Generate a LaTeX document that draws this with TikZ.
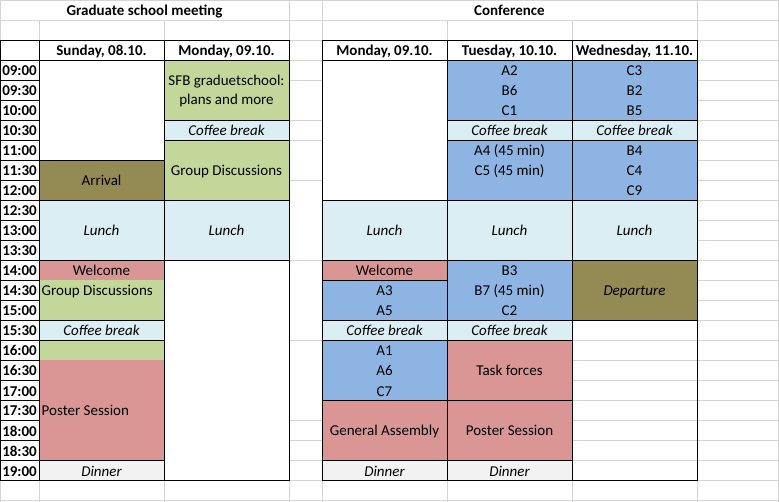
\documentclass[tikz,border=0pt]{standalone}
\usepackage{fontspec}
\setmainfont{Carlito}
\definecolor{cgreen}{HTML}{C4D79B}
\definecolor{clight}{HTML}{DAEEF3}
\definecolor{cblue}{HTML}{8DB4E2}
\definecolor{cpink}{HTML}{DA9694}
\definecolor{colive}{HTML}{948A54}
\definecolor{cdin}{HTML}{F2F2F2}
\definecolor{cgrid}{HTML}{D4D4D4}
\tikzset{
  txt/.style={anchor=base, inner sep=0pt, font=\fontsize{15}{18}\selectfont},
  ltxt/.style={anchor=base west, inner sep=0pt, font=\fontsize{15}{18}\selectfont},
  ital/.style={anchor=base, inner sep=0pt, font=\fontsize{15}{18}\selectfont\itshape},
  hdr/.style={anchor=base, inner sep=0pt, font=\fontsize{15}{18}\selectfont\bfseries},
  timel/.style={anchor=base east, inner sep=0pt, font=\fontsize{15}{18}\selectfont\bfseries},
  gridln/.style={draw=cgrid, line width=1pt},
  bord/.style={draw=black, line width=1pt},
}
\begin{document}
\begin{tikzpicture}[x=1pt,y=-1pt]
\useasboundingbox (0,0) rectangle (779,502);
\fill[white] (0,0) rectangle (779,502);
% ---------- fills: column B (39-164)
\fill[colive] (39,160) rectangle (164,200);
\fill[clight] (39,200) rectangle (164,260);
\fill[cpink]  (39,260) rectangle (164,280);
\fill[cgreen] (39,280) rectangle (164,320);
\fill[clight] (39,320) rectangle (164,340);
\fill[cgreen] (39,340) rectangle (164,360);
\fill[cpink]  (39,360) rectangle (164,460);
\fill[cdin]   (39,460) rectangle (164,480);
% column C (164-289)
\fill[cgreen] (164,60) rectangle (289,120);
\fill[clight] (164,120) rectangle (289,140);
\fill[cgreen] (164,140) rectangle (289,200);
\fill[clight] (164,200) rectangle (289,260);
% column E (322-447)
\fill[clight] (322,200) rectangle (447,260);
\fill[cpink]  (322,260) rectangle (447,280);
\fill[cblue]  (322,280) rectangle (447,320);
\fill[clight] (322,320) rectangle (447,340);
\fill[cblue]  (322,340) rectangle (447,400);
\fill[cpink]  (322,400) rectangle (447,460);
\fill[cdin]   (322,460) rectangle (447,480);
% column F (447-572)
\fill[cblue]  (447,60) rectangle (572,120);
\fill[clight] (447,120) rectangle (572,140);
\fill[cblue]  (447,140) rectangle (572,200);
\fill[clight] (447,200) rectangle (572,260);
\fill[cblue]  (447,260) rectangle (572,320);
\fill[clight] (447,320) rectangle (572,340);
\fill[cpink]  (447,340) rectangle (572,460);
\fill[cdin]   (447,460) rectangle (572,480);
% column G (572-697)
\fill[cblue]  (572,60) rectangle (697,120);
\fill[clight] (572,120) rectangle (697,140);
\fill[cblue]  (572,140) rectangle (697,200);
\fill[clight] (572,200) rectangle (697,260);
\fill[colive] (572,260) rectangle (697,320);
% ---------- grey grid lines
\foreach \y in {0,20,500} \draw[gridln] (0,\y+.5) -- (779,\y+.5);
\foreach \y in {40,60,80,120,140,180,260,340,420,440,460,480} \draw[gridln] (289,\y+.5) -- (323,\y+.5);
\foreach \y in {40,60,...,480} \draw[gridln] (697,\y+.5) -- (779,\y+.5);
\foreach \y in {340,360,...,460} \draw[gridln] (572,\y+.5) -- (698,\y+.5);
\foreach \y in {480} \draw[gridln] (0,\y+.5) -- (779,\y+.5);
\foreach \x in {0,289,322,697} {\draw[gridln] (\x+.5,0) -- (\x+.5,40); \draw[gridln] (\x+.5,480) -- (\x+.5,502);}
\foreach \x in {39,164,447,572} {\draw[gridln] (\x+.5,20) -- (\x+.5,40); \draw[gridln] (\x+.5,480) -- (\x+.5,502);}
\draw[gridln] (778.5,0) -- (778.5,502);
% ---------- black borders
\foreach \x in {0,39,164,289,322,447,572,697} \draw[bord] (\x+.5,40) -- (\x+.5,481);
\foreach \y in {40,60,...,480} \draw[bord] (0,\y+.5) -- (40,\y+.5);
\foreach \y in {40,60,160,200,260,320,340,460,480} \draw[bord] (39,\y+.5) -- (165,\y+.5);
\foreach \y in {40,60,120,140,200,260,480} \draw[bord] (164,\y+.5) -- (290,\y+.5);
\foreach \y in {40,60,200,260,280,320,340,400,460,480} \draw[bord] (322,\y+.5) -- (448,\y+.5);
\foreach \y in {40,60,120,140,200,260,320,340,400,460,480} \draw[bord] (447,\y+.5) -- (573,\y+.5);
\foreach \y in {40,60,120,140,200,260,320,480} \draw[bord] (572,\y+.5) -- (698,\y+.5);
% ---------- titles and headers
\node[hdr] (title1) at (144.5,16) {Graduate school meeting};
\node[hdr] (title2) at (509.5,16) {Conference};
\node[hdr] (hB) at (101.5,56) {Sunday, 08.10.};
\node[hdr] (hC) at (226.5,56) {Monday, 09.10.};
\node[hdr] (hE) at (384.5,56) {Monday, 09.10.};
\node[hdr] (hF) at (509.5,56) {Tuesday, 10.10.};
\node[hdr] (hG) at (634.5,56) {Wednesday, 11.10.};
% ---------- times
\foreach \t [count=\i from 0] in {09:00,09:30,10:00,10:30,11:00,11:30,12:00,12:30,13:00,13:30,14:00,14:30,15:00,15:30,16:00,16:30,17:00,17:30,18:00,18:30,19:00}
  \node[timel] (t\i) at (37,76+20*\i) {\t};
% ---------- column B
\node[txt]  (b1) at (101.5,185.5) {Arrival};
\node[ital] (b2) at (101.5,235.5) {Lunch};
\node[txt]  (b3) at (101.5,276) {Welcome};
\node[ltxt] (b4) at (41.5,296) {Group Discussions};
\node[ital] (b5) at (101.5,336) {Coffee break};
\node[ltxt] (b6) at (41.5,415.5) {Poster Session};
\node[ital] (b7) at (101.5,476) {Dinner};
% ---------- column C
\node[txt]  (c1) at (226.5,85.5) {SFB graduetschool:};
\node[txt]  (c2) at (226.5,104.5) {plans and more};
\node[ital] (c3) at (226.5,136) {Coffee break};
\node[txt]  (c4) at (226.5,175.5) {Group Discussions};
\node[ital] (c5) at (226.5,235.5) {Lunch};
% ---------- column E
\node[ital] (e1) at (384.5,235.5) {Lunch};
\node[txt]  (e2) at (384.5,276) {Welcome};
\node[txt]  (e3) at (384.5,296) {A3};
\node[txt]  (e4) at (384.5,316) {A5};
\node[ital] (e5) at (384.5,336) {Coffee break};
\node[txt]  (e6) at (384.5,356) {A1};
\node[txt]  (e7) at (384.5,376) {A6};
\node[txt]  (e8) at (384.5,396) {C7};
\node[txt]  (e9) at (384.5,435.5) {General Assembly};
\node[ital] (e10) at (384.5,476) {Dinner};
% ---------- column F
\node[txt]  (f1) at (509.5,76) {A2};
\node[txt]  (f2) at (509.5,96) {B6};
\node[txt]  (f3) at (509.5,116) {C1};
\node[ital] (f4) at (509.5,136) {Coffee break};
\node[txt]  (f5) at (509.5,156) {A4 (45 min)};
\node[txt]  (f6) at (509.5,176) {C5 (45 min)};
\node[ital] (f7) at (509.5,235.5) {Lunch};
\node[txt]  (f8) at (509.5,276) {B3};
\node[txt]  (f9) at (509.5,296) {B7 (45 min)};
\node[txt]  (f10) at (509.5,316) {C2};
\node[ital] (f11) at (509.5,336) {Coffee break};
\node[txt]  (f12) at (509.5,375.5) {Task forces};
\node[txt]  (f13) at (509.5,435.5) {Poster Session};
\node[ital] (f14) at (509.5,476) {Dinner};
% ---------- column G
\node[txt]  (g1) at (634.5,76) {C3};
\node[txt]  (g2) at (634.5,96) {B2};
\node[txt]  (g3) at (634.5,116) {B5};
\node[ital] (g4) at (634.5,136) {Coffee break};
\node[txt]  (g5) at (634.5,156) {B4};
\node[txt]  (g6) at (634.5,176) {C4};
\node[txt]  (g7) at (634.5,196) {C9};
\node[ital] (g8) at (634.5,235.5) {Lunch};
\node[ital] (g9) at (634.5,295.5) {Departure};
\end{tikzpicture}
\end{document}
